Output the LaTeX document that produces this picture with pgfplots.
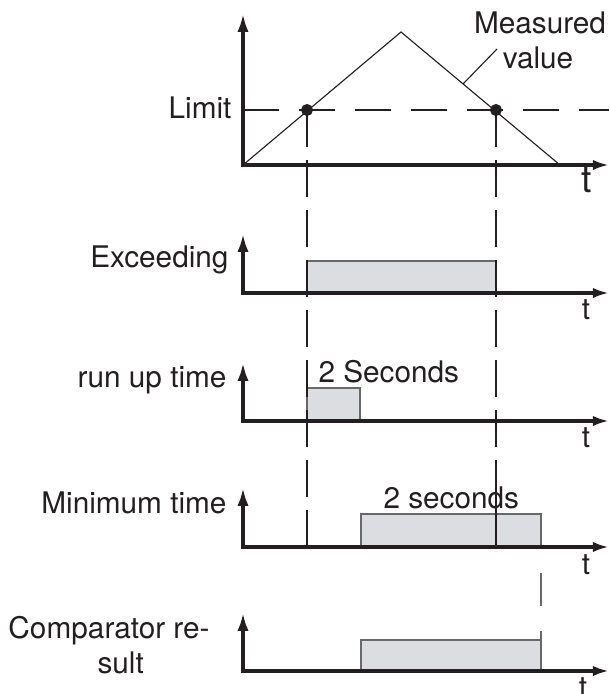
\documentclass[border=0pt]{standalone}
\usepackage{fontspec}
\setmainfont{TeX Gyre Heros}
\usepackage{pgfplots}
\pgfplotsset{compat=1.18}
\usetikzlibrary{arrows.meta}

\definecolor{ink}{RGB}{35,31,32}
\definecolor{barfill}{RGB}{220,221,224}
\definecolor{baredge}{RGB}{105,105,108}

\begin{document}
\begin{tikzpicture}[
    lbl/.style={font=\fontsize{11.9}{14}\selectfont, inner sep=0pt, text=ink},
    tlbl/.style={lbl, anchor=base},
  ]
\begin{axis}[
    scale only axis, width=243.6pt, height=277.6pt,
    xmin=0, xmax=609, ymin=0, ymax=694, y dir=reverse,
    hide axis, clip=false,
  ]
% bars
\addplot[fill=barfill, draw=baredge, line width=0.55pt] coordinates {(307,293) (307,261) (496,261) (496,293)};
\addplot[fill=barfill, draw=baredge, line width=0.55pt] coordinates {(307,421) (307,388) (360,388) (360,421)};
\addplot[fill=barfill, draw=baredge, line width=0.55pt] coordinates {(361,547) (361,514) (541,514) (541,547)};
\addplot[fill=barfill, draw=baredge, line width=0.55pt] coordinates {(361,671) (361,640) (541,640) (541,671)};

% measured value and limit
\addplot[ink, line width=0.45pt] coordinates {(243,165) (401,32) (560,165)};
\addplot[ink, line width=0.45pt] coordinates {(463,84) (497,49)};
\addplot[ink, line width=0.45pt, dash pattern=on 14.4pt off 8pt] coordinates {(243,110) (609,110)};

% vertical guides
\addplot[ink, line width=0.45pt, dash pattern=on 14.8pt off 5.2pt] coordinates {(307,110) (307,547)};
\addplot[ink, line width=0.45pt, dash pattern=on 14.8pt off 5.2pt] coordinates {(496,110) (496,547)};
\addplot[ink, line width=0.45pt] coordinates {(496,495) (496,547)};
\addplot[baredge, line width=0.45pt, dash pattern=on 13.4pt off 10pt] coordinates {(541,514) (541,671)};

\addplot[only marks, mark=*, mark size=2.2pt, ink] coordinates {(307,110) (496,110)};

% axes of the five panels
\addplot[ink, line width=1.6pt, line join=miter, {Latex[length=7.5pt,width=4.4pt]}-{Latex[length=6.5pt,width=4.2pt]}] coordinates {(243,13) (243,165) (609,165)};
\addplot[ink, line width=1.6pt, line join=miter, {Latex[length=7.5pt,width=4.4pt]}-{Latex[length=6.5pt,width=4.2pt]}] coordinates {(243,233) (243,293) (609,293)};
\addplot[ink, line width=1.6pt, line join=miter, {Latex[length=7.5pt,width=4.4pt]}-{Latex[length=6.5pt,width=4.2pt]}] coordinates {(243,362) (243,421) (609,421)};
\addplot[ink, line width=1.6pt, line join=miter, {Latex[length=7.5pt,width=4.4pt]}-{Latex[length=6.5pt,width=4.2pt]}] coordinates {(243,487) (243,547) (609,547)};
\addplot[ink, line width=1.6pt, line join=miter, {Latex[length=7.5pt,width=4.4pt]}-{Latex[length=6.5pt,width=4.2pt]}] coordinates {(243,612) (243,671) (609,671)};

% texts
\node[lbl, anchor=base] at (axis cs:540,33) {Measured};
\node[lbl, anchor=base] at (axis cs:538,68) {value};
\node[lbl, anchor=base east] at (axis cs:232,118) {Limit};
\node[lbl, anchor=base east] at (axis cs:229,267) {Exceeding};
\node[lbl, anchor=base east] at (axis cs:227,387) {run up time};
\node[lbl, anchor=base west] at (axis cs:318,382) {2 Seconds};
\node[lbl, anchor=base east] at (axis cs:227,513) {Minimum time};
\node[lbl, anchor=base west] at (axis cs:383,508) {2 seconds};
\node[lbl, anchor=base west] at (axis cs:8,638) {Comparator re-};
\node[lbl, anchor=base west] at (axis cs:97,673) {sult};

\node[tlbl, font=\fontsize{15}{16}\selectfont] at (axis cs:587,192) {t};
\node[tlbl] at (axis cs:586,319) {t};
\node[tlbl] at (axis cs:586,447) {t};
\node[tlbl] at (axis cs:586,574) {t};
\node[tlbl] at (axis cs:583,697) {t};

\coordinate (bl) at (axis cs:0,694);
\coordinate (tr) at (axis cs:609,0);
\end{axis}
\pgfresetboundingbox
\path[use as bounding box] (bl) rectangle (tr);
\end{tikzpicture}
\end{document}
